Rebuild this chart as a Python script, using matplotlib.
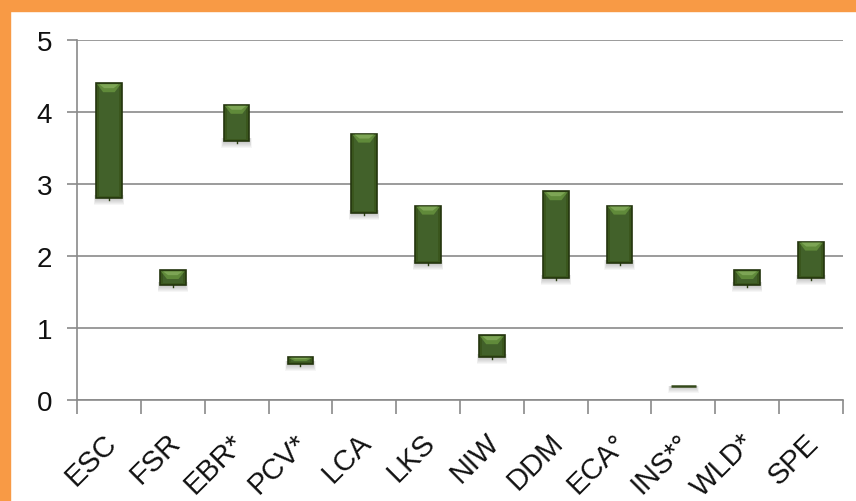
import numpy as np
import matplotlib.pyplot as plt
from matplotlib.patches import Rectangle, Polygon
from matplotlib.transforms import ScaledTranslation

plt.rcParams['font.family'] = ['Liberation Sans', 'DejaVu Sans']

categories = ['ESC', 'FSR', 'EBR*', 'PCV*', 'LCA', 'LKS', 'NIW', 'DDM', 'ECA°', 'INS*°', 'WLD*', 'SPE']
low = [2.8, 1.6, 3.6, 0.5, 2.6, 1.9, 0.6, 1.7, 1.9, 0.2, 1.6, 1.7]
high = [4.4, 1.8, 4.1, 0.6, 3.7, 2.7, 0.9, 2.9, 2.7, 0.2, 1.8, 2.2]

W, H = 856, 502
fig = plt.figure(figsize=(W / 100, H / 100), dpi=100)
fig.patch.set_facecolor('white')

# orange frame strips on the top and left
fig.patches.append(Rectangle((0, 1 - 12 / H), 1, 12 / H, transform=fig.transFigure,
                             color='#f89a45', zorder=0))
fig.patches.append(Rectangle((0, 0), 10 / W, 1, transform=fig.transFigure,
                             color='#f89a45', zorder=0))

ax = fig.add_axes([77 / W, 1 - 401 / H, (843 - 77) / W, 360 / H])
ax.set_xlim(-0.5, len(categories) - 0.5)
ax.set_ylim(0, 5)

# size of one pixel in data units
px = (len(categories)) / (843 - 77)
py = 5 / 360

bw = 0.4
for i, (lo, hi) in enumerate(zip(low, high)):
    x0 = i - bw / 2
    x1 = i + bw / 2
    # soft shadow below the bar
    for k in range(1, 7):
        ax.add_patch(Rectangle((x0 - k * 0.4 * px, lo - (1 + k) * py),
                               bw + k * 0.8 * px, (1 + k) * py + min(3 * py, hi - lo),
                               facecolor='#505050', edgecolor='none',
                               alpha=0.05, zorder=2))
    if hi - lo < 1e-6:
        ax.plot([x0, x1], [hi, hi], color='#34491a', lw=1.8, zorder=4,
                solid_capstyle='butt')
        continue
    # low marker
    ax.plot([i, i], [lo, lo - 2 * py], color='#2c3f14', lw=1, zorder=3)
    # bar body
    ax.add_patch(Rectangle((x0, lo), bw, hi - lo, facecolor='#3a561d',
                           edgecolor='#24350e', lw=1.2, zorder=4))
    # inner lighter band
    ax.add_patch(Rectangle((x0 + 3 * px, lo + 2 * py), bw - 6 * px,
                           max(hi - lo - 4 * py, 0), facecolor='#42612a',
                           edgecolor='none', zorder=4))
    # bevel highlight on top
    d = min(9 * py, (hi - lo) * 0.6)
    ins = min(7 * px, bw / 3)
    ax.add_patch(Polygon([(x0 + px, hi - py), (x1 - px, hi - py),
                          (x1 - ins, hi - d), (x0 + ins, hi - d)],
                         closed=True, facecolor='#608a3a', edgecolor='none',
                         zorder=5))
    ax.add_patch(Polygon([(x0 + 3 * px, hi - py), (x1 - 3 * px, hi - py),
                          (x1 - ins - px, hi - d * 0.55), (x0 + ins + px, hi - d * 0.55)],
                         closed=True, facecolor='#7da555', edgecolor='none',
                         zorder=5))

ax.set_yticks(range(6))
ax.yaxis.grid(True, color='#8a8a8a', lw=1.2, zorder=0)
ax.set_axisbelow(True)
ax.tick_params(axis='y', length=7, width=1.2, color='#8a8a8a', labelsize=20,
               pad=11, labelcolor='#111111')

ax.set_xticks(np.arange(-0.5, len(categories)), minor=False)
ax.set_xticklabels([])
ax.set_xticks(range(len(categories)), minor=True)
ax.set_xticklabels(categories, minor=True, rotation=45, ha='right',
                   rotation_mode='anchor', fontsize=21, color='#111111')
ax.tick_params(axis='x', which='major', length=10, width=1.2, color='#8a8a8a')
ax.tick_params(axis='x', which='minor', length=0, pad=20)
shift = ScaledTranslation(-7 / 100, 0, fig.dpi_scale_trans)
for lab in ax.get_xticklabels(minor=True):
    lab.set_transform(lab.get_transform() + shift)

for s in ['top', 'right']:
    ax.spines[s].set_visible(False)
ax.spines['left'].set_color('#8a8a8a')
ax.spines['bottom'].set_color('#8a8a8a')
ax.spines['left'].set_linewidth(1.2)
ax.spines['bottom'].set_linewidth(1.2)

fig.savefig('out.png', dpi=100)
